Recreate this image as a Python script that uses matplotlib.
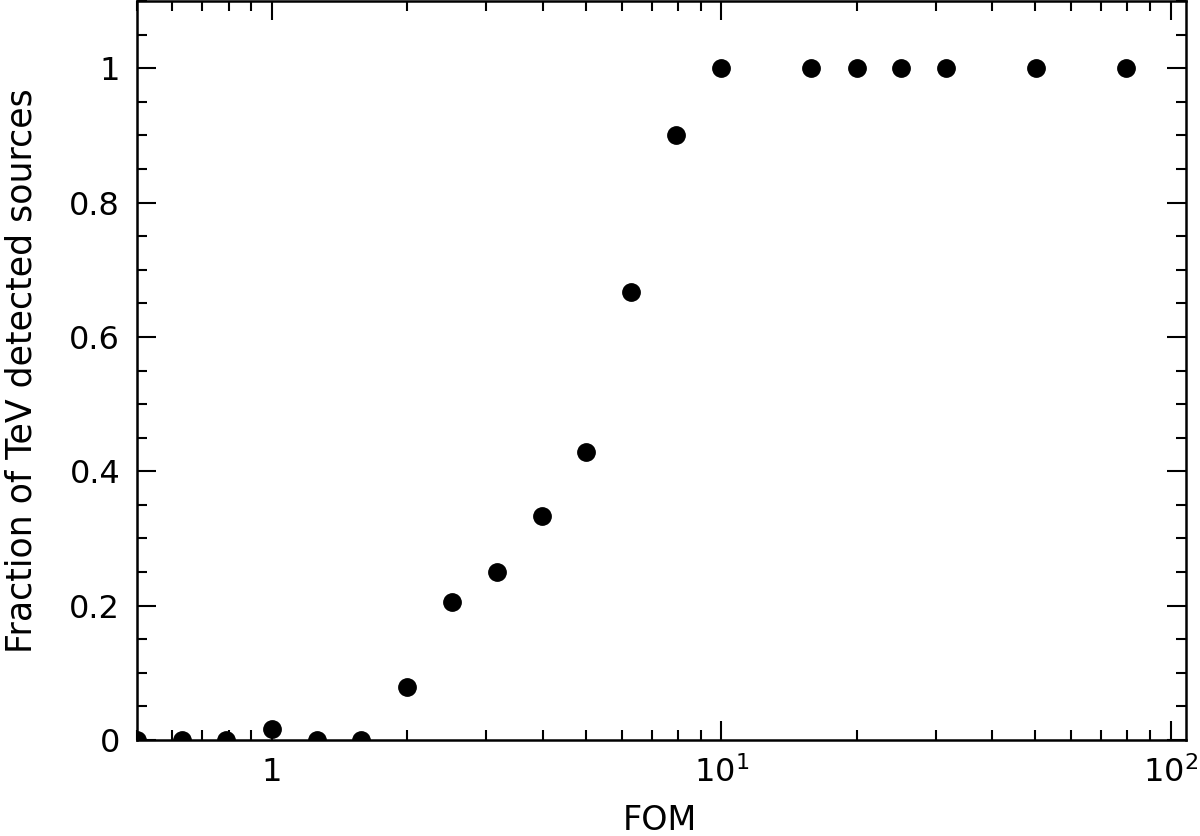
import matplotlib
matplotlib.use("Agg")
import matplotlib.pyplot as plt
from matplotlib.ticker import FixedLocator, FuncFormatter, MultipleLocator, LogLocator

# data
fom = [0.5, 0.63, 0.79, 1.0, 1.26, 1.58, 2.0, 2.51, 3.16, 3.98, 5.01,
       6.31, 7.94, 10.0, 15.8, 20.0, 25.1, 31.6, 50.1, 79.4]
frac = [0.0, 0.0, 0.0, 0.016, 0.0, 0.0, 0.079, 0.206, 0.25, 0.333, 0.429,
        0.667, 0.9, 1.0, 1.0, 1.0, 1.0, 1.0, 1.0, 1.0]

xtick_vals = [1, 10, 100]
xtick_text = {1: "1", 10: "10$^1$", 100: "10$^2$"}

plt.rcParams['font.family'] = ['DejaVu Sans']
plt.rcParams['mathtext.fontset'] = 'dejavusans'

fig = plt.figure(figsize=(12, 8.36), dpi=100)
ax = fig.add_axes([0.114, 0.1148, 0.874, 0.884])

ax.plot(fom, frac, 'o', color='black', markersize=12.5, ls='none')

ax.set_xscale('log')
ax.set_xlim(0.5, 108)
ax.set_ylim(0, 1.1)

ax.xaxis.set_major_locator(FixedLocator(xtick_vals))
ax.xaxis.set_major_formatter(FuncFormatter(lambda v, p: xtick_text.get(int(round(v)), "")))
ax.xaxis.set_minor_locator(LogLocator(base=10, subs=range(2, 10), numticks=20))
ax.xaxis.set_minor_formatter(FuncFormatter(lambda v, p: ""))

ax.yaxis.set_major_locator(MultipleLocator(0.2))
ax.yaxis.set_minor_locator(MultipleLocator(0.05))
ax.yaxis.set_major_formatter(FuncFormatter(
    lambda v, p: "0" if abs(v) < 1e-9 else ("1" if abs(v - 1) < 1e-9 else f"{v:.1f}")))

ax.tick_params(which='both', direction='in', top=True, right=True, width=1.5, labelsize=23)
ax.tick_params(which='major', length=14, pad=12)
ax.tick_params(which='minor', length=7)
for s in ax.spines.values():
    s.set_linewidth(1.8)

ax.set_xlabel('FOM', fontsize=24)
ax.xaxis.set_label_coords(0.499, -0.087)
ax.set_ylabel('Fraction of TeV detected sources', fontsize=25)
ax.yaxis.set_label_coords(-0.094, 0.5)

fig.savefig('out.png', dpi=100)
